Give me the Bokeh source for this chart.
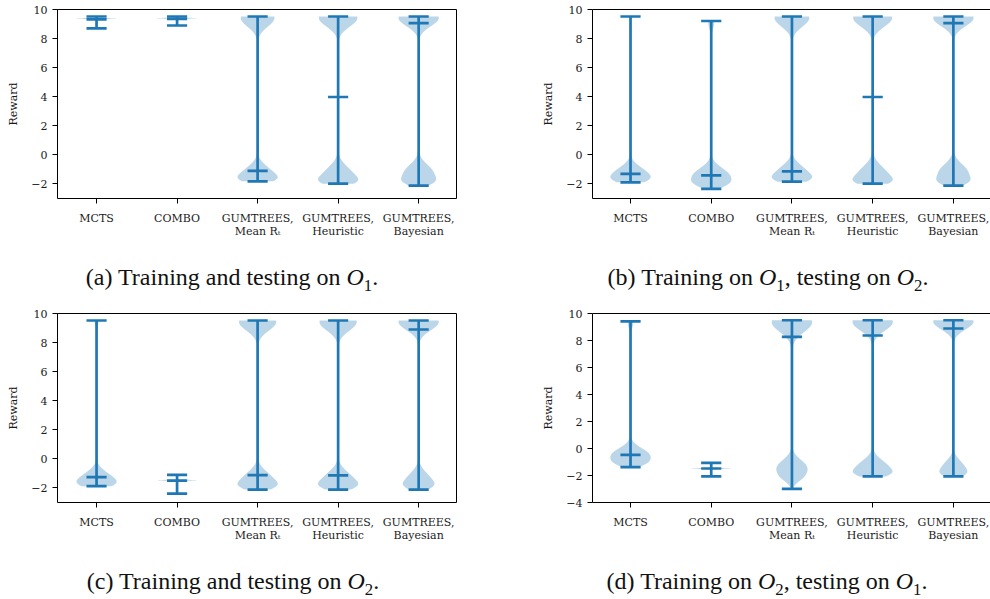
import numpy as np
from bokeh.plotting import figure
from bokeh.models import FixedTicker, LinearAxis, Range1d, Div
from bokeh.layouts import column, row
from bokeh.embed import file_html
from bokeh.resources import INLINE

# ---------------- data ----------------
CATEGORIES = ["MCTS", "COMBO", "GUMTREES,\nMean Rₜ", "GUMTREES,\nHeuristic", "GUMTREES,\nBayesian"]
POSITIONS = [1, 2, 3, 4, 5]

# each mode: (centre, spread, relative peak height) of the violin's density
A_MIN = [8.70, 8.90, -1.82, -1.98, -2.12]
A_MEDIAN = [9.32, 9.36, -1.10, 3.98, 9.06]
A_MAX = [9.52, 9.52, 9.52, 9.52, 9.52]
A_MODES = [
    [(9.38, 0.03, 1.0)],
    [(9.40, 0.03, 1.0)],
    [(9.42, 0.60, 1.0), (-1.30, 0.55, 0.85), (-1.65, 0.30, 0.45)],
    [(9.42, 0.60, 1.0), (-1.40, 0.62, 0.75), (-1.80, 0.30, 0.40)],
    [(9.42, 0.57, 1.0), (-1.25, 0.58, 0.72), (-1.85, 0.30, 0.38)],
]

B_MIN = [-1.89, -2.34, -1.84, -1.98, -2.12]
B_MEDIAN = [-1.31, -1.41, -1.13, 3.98, 9.06]
B_MAX = [9.52, 9.21, 9.52, 9.52, 9.52]
B_MODES = [
    [(-1.30, 0.50, 1.0), (-1.70, 0.30, 0.45)],
    [(-1.45, 0.55, 1.0), (-2.00, 0.30, 0.35), (9.10, 0.45, 0.16)],
    [(9.42, 0.60, 1.0), (-1.25, 0.55, 0.85), (-1.65, 0.30, 0.45)],
    [(9.42, 0.60, 1.0), (-1.38, 0.62, 0.75), (-1.80, 0.30, 0.40)],
    [(9.42, 0.57, 1.0), (-1.22, 0.58, 0.72), (-1.85, 0.30, 0.38)],
]

C_MIN = [-1.88, -2.39, -2.11, -2.11, -2.11]
C_MEDIAN = [-1.26, -1.49, -1.12, -1.13, 8.90]
C_MAX = [9.52, -1.10, 9.52, 9.52, 9.52]
C_MODES = [
    [(-1.40, 0.52, 1.0), (-1.70, 0.30, 0.40), (9.45, 0.40, 0.12)],
    [(-1.47, 0.03, 1.0)],
    [(9.42, 0.60, 1.0), (-1.45, 0.58, 0.80), (-1.85, 0.30, 0.40)],
    [(9.42, 0.60, 1.0), (-1.45, 0.58, 0.80), (-1.85, 0.30, 0.40)],
    [(9.42, 0.57, 1.0), (-1.45, 0.55, 0.58), (-1.85, 0.30, 0.30)],
]

D_MIN = [-1.38, -2.07, -2.99, -2.07, -2.07]
D_MEDIAN = [-0.47, -1.48, 8.27, 8.37, 8.89]
D_MAX = [9.41, -1.07, 9.50, 9.50, 9.50]
D_MODES = [
    [(-0.50, 0.52, 1.0), (-1.10, 0.30, 0.35), (9.30, 0.40, 0.14)],
    [(-1.48, 0.03, 1.0)],
    [(9.35, 0.72, 1.0), (-1.45, 0.60, 0.75), (-2.20, 0.35, 0.20)],
    [(9.38, 0.65, 1.0), (-1.40, 0.56, 0.75), (-1.85, 0.30, 0.38)],
    [(9.40, 0.58, 1.0), (-1.40, 0.54, 0.52), (-1.85, 0.30, 0.28)],
]

Y_TICKS_3 = [-2, 0, 2, 4, 6, 8, 10]
Y_TICKS_4 = [-4, -2, 0, 2, 4, 6, 8, 10]

SUB1 = '<i>O</i><sub style="font-size:70%">1</sub>'
SUB2 = '<i>O</i><sub style="font-size:70%">2</sub>'
CAPTIONS = [
    "(a) Training and testing on " + SUB1 + ".",
    "(b) Training on " + SUB1 + ", testing on " + SUB2 + ".",
    "(c) Training and testing on " + SUB2 + ".",
    "(d) Training on " + SUB2 + ", testing on " + SUB1 + ".",
]

# ---------------- styling ----------------
BLUE = "#1f77b4"
LW = 2.7
CAP = 0.125
HALF = 0.25
TICK_FONT = "DejaVu Serif"
TEXT_COLOR = "#1a1a1a"


def violin_outline(pos, lo, hi, modes, n=500):
    y = np.linspace(lo, hi, n)
    d = np.zeros_like(y)
    for c, s, w in modes:
        d += w * np.exp(-0.5 * ((y - c) / s) ** 2)
    d = d / d.max() * HALF
    xs = np.concatenate([pos - d, (pos + d)[::-1]])
    ys = np.concatenate([y, y[::-1]])
    return list(xs), list(ys)


def style_axis(ax, standoff):
    ax.major_tick_out = 5
    ax.major_tick_in = 0
    ax.minor_tick_line_color = None
    ax.major_tick_line_color = "black"
    ax.major_tick_line_width = 1
    ax.major_label_text_font = TICK_FONT
    ax.major_label_text_font_size = "11px"
    ax.major_label_text_color = TEXT_COLOR
    ax.major_label_standoff = standoff


def make_panel(mins, meds, maxs, modes, y_lo, y_hi, y_ticks, x_lo, x_hi,
               width, height, mb_left, mb_right, mb_top, mb_bottom, box):
    p = figure(width=width, height=height, x_range=Range1d(x_lo, x_hi),
               y_range=Range1d(y_lo, y_hi), output_backend="svg",
               toolbar_location=None, min_border_left=mb_left,
               min_border_right=mb_right, min_border_top=mb_top,
               min_border_bottom=mb_bottom)
    p.grid.visible = False
    p.background_fill_color = "white"
    p.border_fill_color = "white"

    xs_all, ys_all = [], []
    for pos, lo, hi, m in zip(POSITIONS, mins, maxs, modes):
        xs, ys = violin_outline(pos, lo, hi, m)
        xs_all.append(xs)
        ys_all.append(ys)
    p.patches(xs_all, ys_all, fill_color=BLUE, fill_alpha=0.3, line_color=None)

    p.segment(x0=POSITIONS, y0=mins, x1=POSITIONS, y1=maxs,
              line_color=BLUE, line_width=LW)
    left = [x - CAP for x in POSITIONS]
    right = [x + CAP for x in POSITIONS]
    for arr in (mins, maxs, meds):
        p.segment(x0=left, y0=arr, x1=right, y1=arr, line_color=BLUE, line_width=LW)

    xa = p.xaxis[0]
    ya = p.yaxis[0]
    style_axis(xa, 8)
    style_axis(ya, 5)
    xa.major_label_text_line_height = 1.0
    xa.ticker = FixedTicker(ticks=POSITIONS)
    xa.major_label_overrides = {pos: cat for pos, cat in zip(POSITIONS, CATEGORIES)}
    ya.ticker = FixedTicker(ticks=y_ticks)
    ya.major_label_overrides = {t: str(t).replace("-", "\u2212") for t in y_ticks}
    ya.axis_label = "Reward"
    ya.axis_label_text_font = TICK_FONT
    ya.axis_label_text_font_size = "11px"
    ya.axis_label_text_font_style = "normal"
    ya.axis_label_text_color = TEXT_COLOR
    ya.axis_label_standoff = 8

    if box:
        p.outline_line_color = "black"
        p.outline_line_width = 1
        p.outline_line_alpha = 1
        xa.axis_line_color = None
        ya.axis_line_color = None
    else:
        p.outline_line_color = None
        xa.axis_line_color = "black"
        ya.axis_line_color = "black"
        top = LinearAxis(ticker=FixedTicker(ticks=[]))
        top.major_label_text_font_size = "0px"
        top.major_label_standoff = 0
        top.major_tick_line_color = None
        top.minor_tick_line_color = None
        top.axis_line_color = "black"
        p.add_layout(top, "above")
    return p


def caption(text, width, height, inner_width, line_height):
    html = ('<div style="width:%dpx;text-align:center;font-family:\'Liberation Serif\',serif;'
            'font-size:24px;line-height:%dpx;color:#111;white-space:nowrap;">%s</div>'
            % (inner_width, line_height, text))
    return Div(text=html, width=width, height=height, margin=0)


W_LEFT = 535
W_RIGHT = 455
H_TOP = 258
H_BOT = 269

pa = make_panel(A_MIN, A_MEDIAN, A_MAX, A_MODES, -3, 10, Y_TICKS_3, 0.515, 5.47,
                W_LEFT, H_TOP, 57, 79, 9, 60, True)
pb = make_panel(B_MIN, B_MEDIAN, B_MAX, B_MODES, -3, 10, Y_TICKS_3, 0.529, 5.46,
                W_RIGHT, H_TOP, 57, 0, 9, 60, False)
pc = make_panel(C_MIN, C_MEDIAN, C_MAX, C_MODES, -3, 10, Y_TICKS_3, 0.515, 5.47,
                W_LEFT, H_BOT, 57, 79, 13, 67, True)
pd = make_panel(D_MIN, D_MEDIAN, D_MAX, D_MODES, -4, 10, Y_TICKS_4, 0.529, 5.46,
                W_RIGHT, H_BOT, 57, 0, 13, 67, False)

ca = caption(CAPTIONS[0], W_LEFT, 42, 464, 39)
cb = caption(CAPTIONS[1], W_RIGHT, 42, 466, 39)
cc = caption(CAPTIONS[2], W_LEFT, 29, 466, 25)
cd = caption(CAPTIONS[3], W_RIGHT, 29, 464, 25)

layout = column(row(pa, pb, spacing=0), row(ca, cb, spacing=0),
                row(pc, pd, spacing=0), row(cc, cd, spacing=0), spacing=0)

open("out.html", "w").write(file_html(layout, INLINE))
